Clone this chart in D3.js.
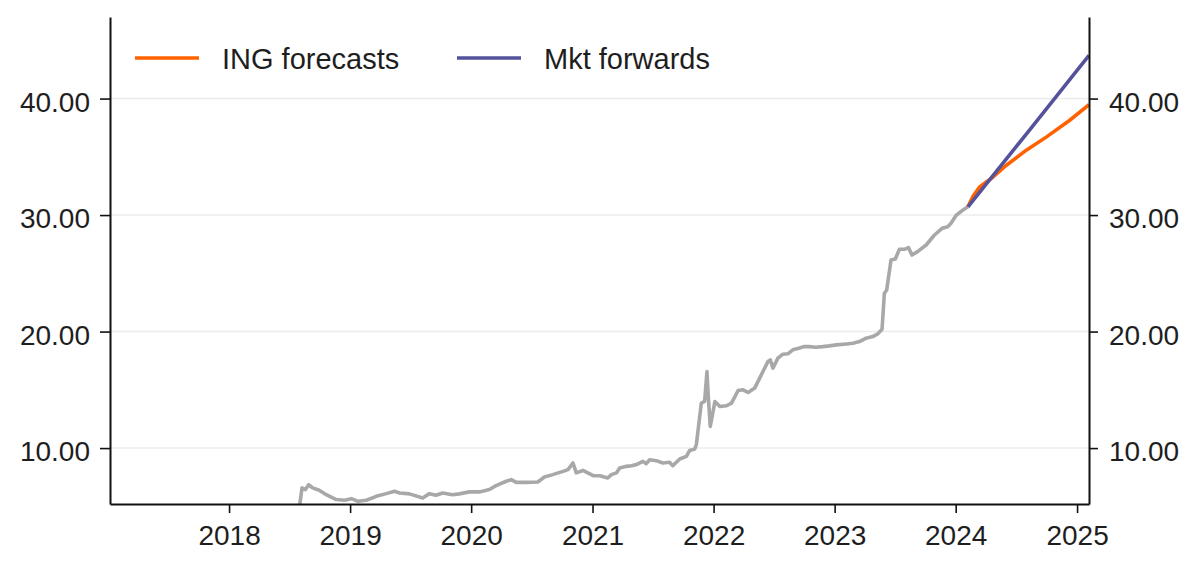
<!DOCTYPE html>
<html>
<head>
<meta charset="utf-8">
<script src="https://cdn.jsdelivr.net/npm/d3@7"></script>
<style>
    body { margin: 0; background: #fff; }
    text { font-family: "Liberation Sans", Arial, sans-serif; fill: #1e1e1e; }
    .axis path, .axis line { stroke: #111; }
</style>
</head>
<body>
<svg id="chart"></svg>
<script>
// history
const histDates = [
    "2018-08-01", "2018-08-09", "2018-08-19", "2018-08-29", "2018-09-10", "2018-09-30", "2018-10-21", "2018-11-20", "2018-12-15",
    "2019-01-05", "2019-01-25", "2019-02-19", "2019-03-21", "2019-04-20", "2019-05-15", "2019-05-30", "2019-06-29", "2019-08-08",
    "2019-08-28", "2019-09-17", "2019-10-07", "2019-11-06", "2019-11-26", "2019-12-27",
    "2020-01-26", "2020-02-25", "2020-03-16", "2020-04-16", "2020-05-01", "2020-05-16", "2020-06-15", "2020-07-20", "2020-08-09",
    "2020-09-03", "2020-10-04", "2020-10-19", "2020-11-03", "2020-11-13", "2020-12-03",
    "2021-01-03", "2021-01-23", "2021-02-16", "2021-02-27", "2021-03-14", "2021-03-24", "2021-04-13", "2021-04-28", "2021-05-13",
    "2021-06-02", "2021-06-12", "2021-06-22", "2021-07-12", "2021-08-01", "2021-08-21", "2021-08-31", "2021-09-21", "2021-10-11",
    "2021-10-21", "2021-11-05", "2021-11-10", "2021-11-25", "2021-12-05", "2021-12-12", "2021-12-16", "2021-12-22",
    "2022-01-05", "2022-01-20", "2022-02-09", "2022-02-24", "2022-03-16", "2022-03-31", "2022-04-15", "2022-05-05", "2022-05-20",
    "2022-06-14", "2022-06-21", "2022-06-29", "2022-07-14", "2022-07-29", "2022-08-13", "2022-08-28", "2022-09-12", "2022-10-02",
    "2022-10-17", "2022-11-04", "2022-11-26", "2022-12-16",
    "2023-01-06", "2023-02-05", "2023-02-25", "2023-03-17", "2023-04-06", "2023-04-26", "2023-05-11", "2023-05-24", "2023-05-31",
    "2023-06-07", "2023-06-20", "2023-07-03", "2023-07-15", "2023-07-30", "2023-08-12", "2023-08-22", "2023-09-08", "2023-10-04",
    "2023-10-29", "2023-11-21", "2023-12-08", "2023-12-18",
    "2024-01-03", "2024-01-23", "2024-02-07"
];
const histValues = [
    4.9, 6.58, 6.44, 6.86, 6.58, 6.38, 6.0, 5.58, 5.52,
    5.66, 5.43, 5.52, 5.86, 6.09, 6.29, 6.15, 6.07, 5.72,
    6.09, 5.95, 6.15, 6.0, 6.07, 6.24,
    6.24, 6.44, 6.78, 7.15, 7.29, 7.06, 7.06, 7.09, 7.52,
    7.72, 8.0, 8.15, 8.72, 7.87, 8.08,
    7.63, 7.63, 7.44, 7.72, 7.87, 8.3, 8.43, 8.49, 8.58,
    8.86, 8.66, 9.0, 8.92, 8.72, 8.78, 8.49, 9.06, 9.29,
    9.8, 9.92, 10.29, 13.86, 14.0, 16.57, 14.43, 11.86,
    14.0, 13.57, 13.63, 13.86, 14.94, 15.0, 14.77, 15.15, 16.0,
    17.43, 17.57, 16.86, 17.72, 18.06, 18.09, 18.43, 18.54, 18.71,
    18.71, 18.66, 18.71, 18.77,
    18.86, 18.94, 19.0, 19.14, 19.43, 19.57, 19.8, 20.2, 23.29,
    23.57, 26.14, 26.23, 27.06, 27.06, 27.2, 26.57, 26.86, 27.43,
    28.29, 28.86, 29.0, 29.29,
    30.0, 30.43, 30.71
];

// ING forecasts
const ingDates = ["2024-02-07", "2024-02-22", "2024-03-13", "2024-04-17", "2024-06-02", "2024-08-01", "2024-10-01", "2024-12-10", "2025-02-06"];
const ingValues = [30.71, 31.6, 32.4, 33.14, 34.28, 35.57, 36.71, 38.14, 39.47];

// market forwards
const fwdDates = ["2024-02-07", "2024-08-07", "2025-02-06"];
const fwdValues = [30.71, 37.17, 43.7];

const seriesNames = ["ING forecasts", "Mkt forwards"];
const yTicks = [10, 20, 30, 40];
const xTickYears = [2018, 2019, 2020, 2021, 2022, 2023, 2024, 2025];

class ForecastChart {

    constructor(_config) {
        this.config = {
            parentElement: _config.parentElement,
            containerWidth: _config.containerWidth || 1200,
            containerHeight: _config.containerHeight || 571,
        }
        this.config.margin = _config.margin || { top: 17, bottom: 67, right: 111, left: 110 }
        this.colors = { hist: "#a8a8a8", ing: "#ff6200", fwd: "#55529c" };
        this.initVis();
        this.renderVis();
    }

    initVis() {
        let vis = this;
        const parse = d3.timeParse("%Y-%m-%d");

        vis.hist = histDates.map((d, i) => ({ date: parse(d), value: histValues[i] }));
        vis.ing = ingDates.map((d, i) => ({ date: parse(d), value: ingValues[i] }));
        vis.fwd = fwdDates.map((d, i) => ({ date: parse(d), value: fwdValues[i] }));

        vis.width = vis.config.containerWidth - vis.config.margin.left - vis.config.margin.right;
        vis.height = vis.config.containerHeight - vis.config.margin.top - vis.config.margin.bottom;

        vis.svg = d3.select(vis.config.parentElement)
            .attr('width', vis.config.containerWidth)
            .attr('height', vis.config.containerHeight);

        vis.chart = vis.svg.append('g')
            .attr('transform', `translate(${vis.config.margin.left},${vis.config.margin.top})`);

        vis.xScale = d3.scaleTime()
            .domain([parse("2017-01-07"), parse("2025-02-06")])
            .range([0, vis.width]);

        vis.yScale = d3.scaleLinear()
            .domain([5.2, 47])
            .range([vis.height, 0]);

        vis.svg.append("defs").append("clipPath")
            .attr("id", "plot-clip")
            .append("rect")
            .attr("width", vis.width)
            .attr("height", vis.height);
    }

    renderVis() {
        let vis = this;

        // gridlines
        vis.chart.append("g")
            .selectAll("line")
            .data(yTicks)
            .join("line")
            .attr("x1", 0)
            .attr("x2", vis.width)
            .attr("y1", d => vis.yScale(d))
            .attr("y2", d => vis.yScale(d))
            .attr("stroke", "#ececec")
            .attr("stroke-width", 1.5);

        let line = d3.line()
            .x(d => vis.xScale(d.date))
            .y(d => vis.yScale(d.value));

        let lines = vis.chart.append("g").attr("clip-path", "url(#plot-clip)");

        lines.append("path")
            .datum(vis.hist)
            .attr("fill", "none")
            .attr("stroke", vis.colors.hist)
            .attr("stroke-width", 3.6)
            .attr("stroke-linejoin", "round")
            .attr("d", line);

        lines.append("path")
            .datum(vis.ing)
            .attr("fill", "none")
            .attr("stroke", vis.colors.ing)
            .attr("stroke-width", 3.6)
            .attr("d", line);

        lines.append("path")
            .datum(vis.fwd)
            .attr("fill", "none")
            .attr("stroke", vis.colors.fwd)
            .attr("stroke-width", 3.6)
            .attr("d", line);

        // axes
        let xAxis = d3.axisBottom(vis.xScale)
            .tickValues(xTickYears.map(y => new Date(y, 0, 1)))
            .tickFormat(d3.timeFormat("%Y"))
            .tickSize(9)
            .tickSizeOuter(0)
            .tickPadding(12);

        let yAxisLeft = d3.axisLeft(vis.yScale)
            .tickValues(yTicks)
            .tickFormat(d3.format(".2f"))
            .tickSize(10)
            .tickSizeOuter(0)
            .tickPadding(10);

        let yAxisRight = d3.axisRight(vis.yScale)
            .tickValues(yTicks)
            .tickFormat(d3.format(".2f"))
            .tickSize(9)
            .tickSizeOuter(0)
            .tickPadding(11);

        vis.chart.append("g")
            .attr("class", "x axis")
            .attr("transform", `translate(0,${vis.height})`)
            .call(xAxis);

        let ylg = vis.chart.append("g")
            .attr("class", "y axis")
            .call(yAxisLeft);

        let yrg = vis.chart.append("g")
            .attr("class", "y axis")
            .attr("transform", `translate(${vis.width},0)`)
            .call(yAxisRight);

        vis.chart.selectAll(".axis path").attr("stroke-width", 2);
        vis.chart.selectAll(".axis line").attr("stroke-width", 1.6);
        vis.chart.selectAll(".axis text")
            .attr("font-size", 28)
            .attr("font-family", "Liberation Sans, Arial, sans-serif")
            .attr("fill", "#1e1e1e");
        ylg.selectAll("text").attr("dy", "0.45em");
        yrg.selectAll("text").attr("dy", "0.45em");

        // legend
        let legend = vis.svg.append("g");
        let legendItems = [
            { name: seriesNames[0], color: vis.colors.ing, x: 135 },
            { name: seriesNames[1], color: vis.colors.fwd, x: 457 }
        ];
        let item = legend.selectAll("g")
            .data(legendItems)
            .join("g")
            .attr("transform", d => `translate(${d.x},58)`);

        item.append("line")
            .attr("x1", 0)
            .attr("x2", 64)
            .attr("stroke", d => d.color)
            .attr("stroke-width", 3.6);

        item.append("text")
            .attr("x", 87)
            .attr("y", 11)
            .attr("font-size", 29)
            .text(d => d.name);
    }
}

let chart = new ForecastChart({ parentElement: "#chart" });
</script>
</body>
</html>
